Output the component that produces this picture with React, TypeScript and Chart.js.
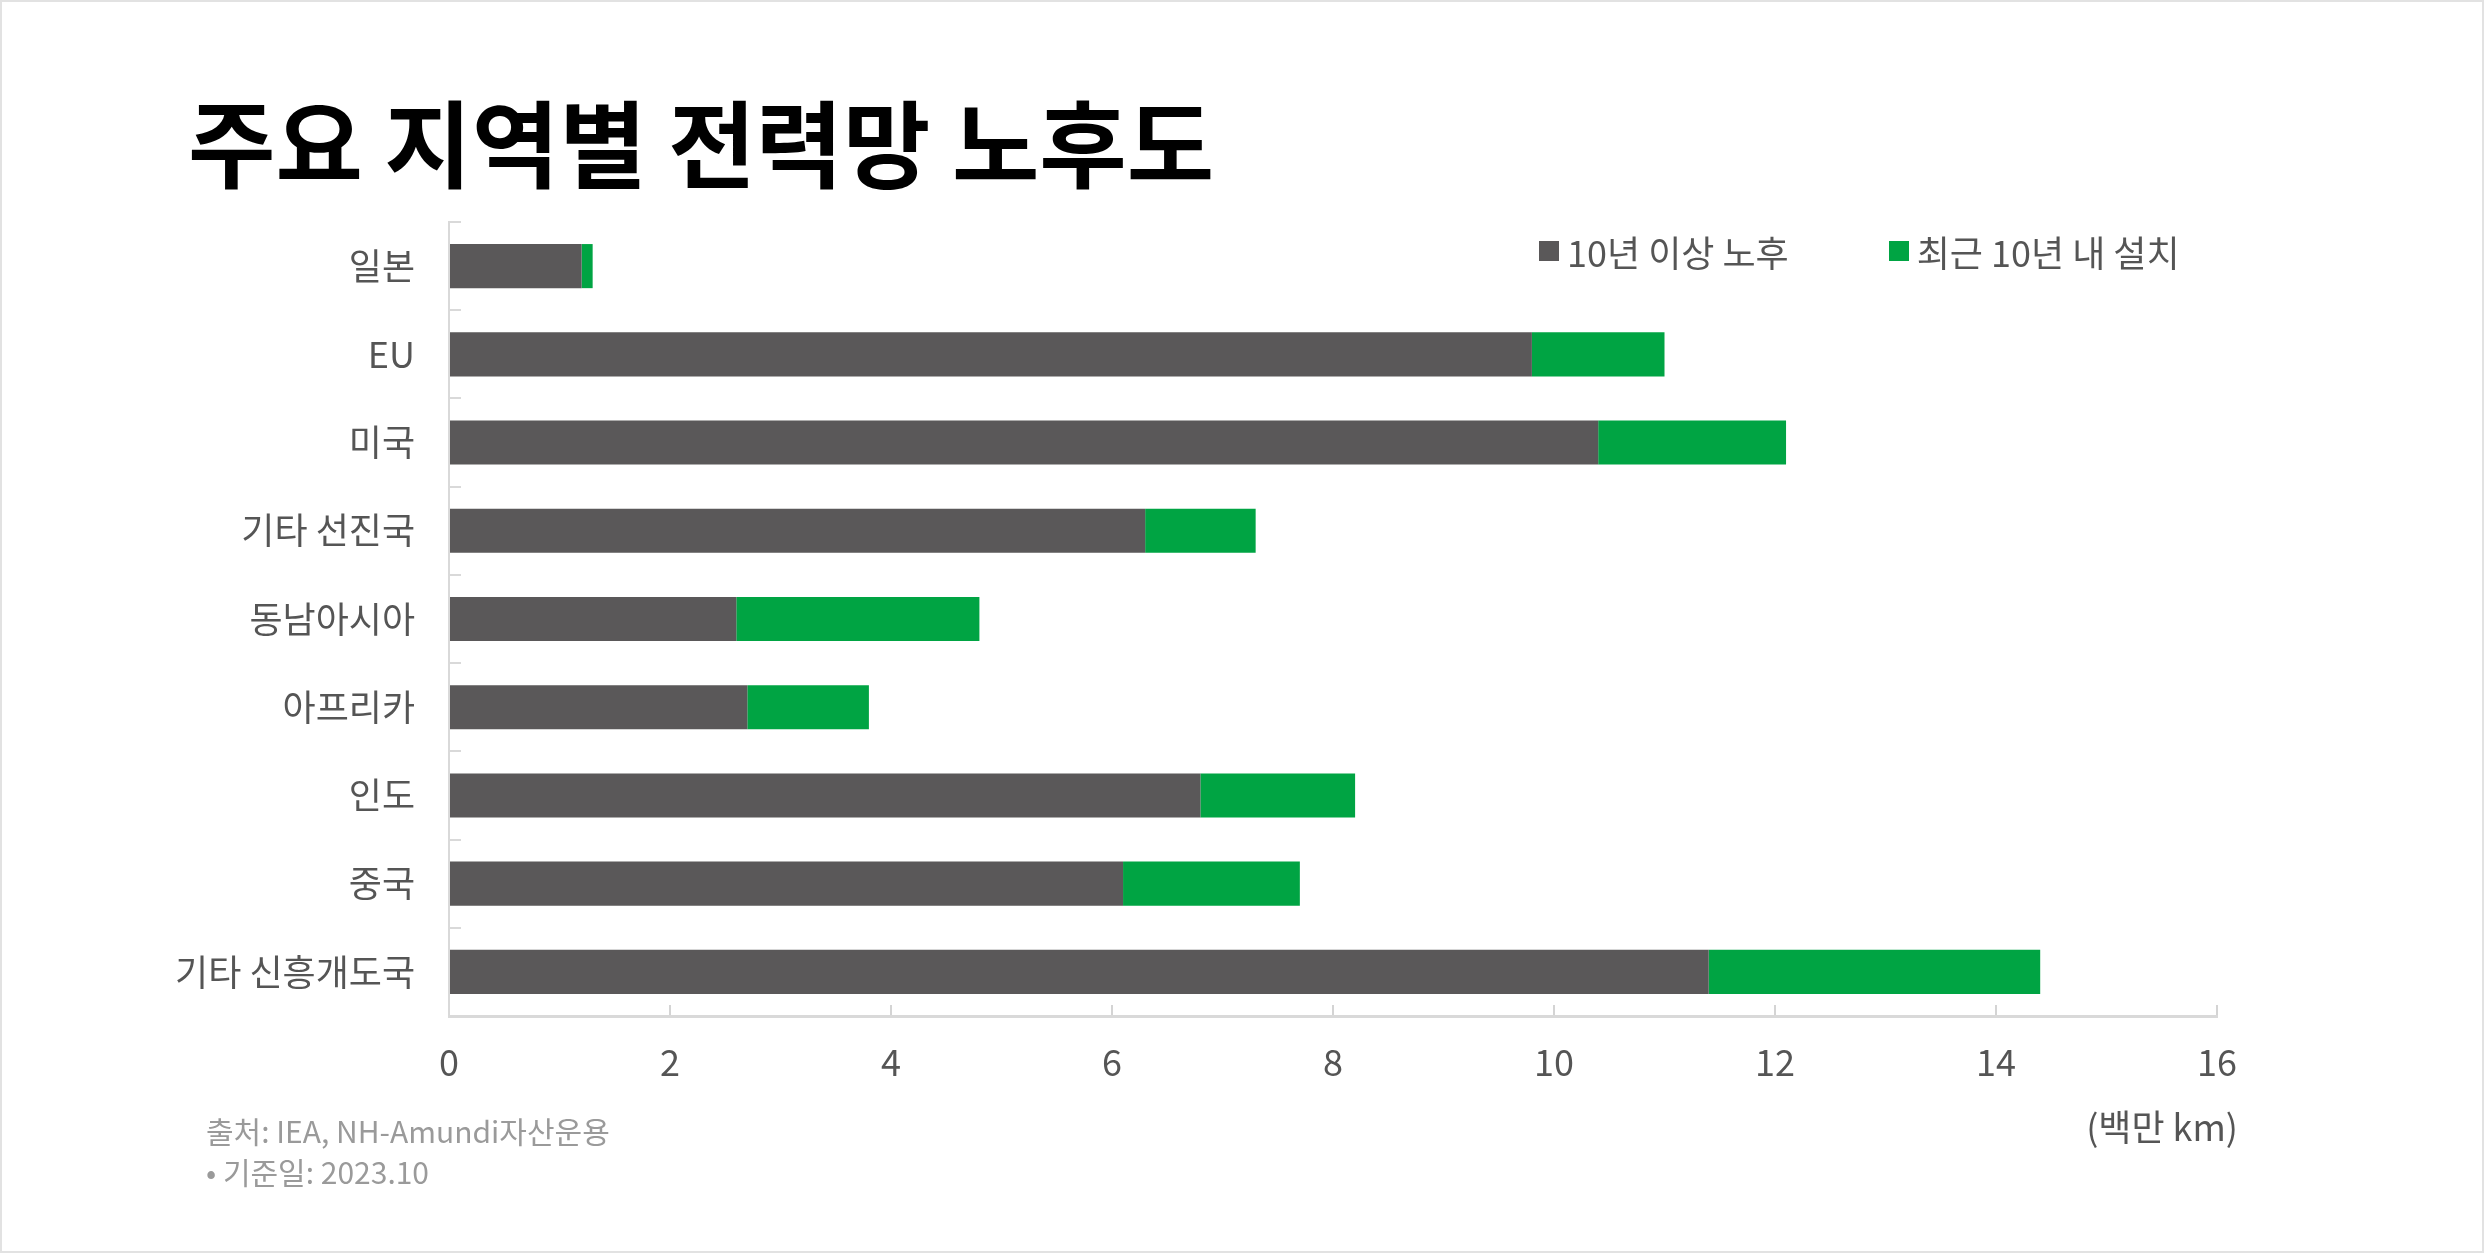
import React, { useEffect, useRef } from 'react';
import { Chart, registerables } from 'chart.js';

Chart.register(...registerables);

const FONT = '"Noto Sans CJK KR", "Noto Sans", sans-serif';

const categories = ['일본', 'EU', '미국', '기타 선진국', '동남아시아', '아프리카', '인도', '중국', '기타 신흥개도국'];
const agedOver10 = [1.2, 9.8, 10.4, 6.3, 2.6, 2.7, 6.8, 6.1, 11.4];
const builtLast10 = [0.1, 1.2, 1.7, 1.0, 2.2, 1.1, 1.4, 1.6, 3.0];
const seriesNames = ['10년 이상 노후', '최근 10년 내 설치'];
const seriesColors = ['#5a5859', '#00a443'];
const xMin = 0;
const xMax = 16;
const xStep = 2;

const App: React.FC = () => {
  const canvasRef = useRef<HTMLCanvasElement | null>(null);
  const chartRef = useRef<Chart | null>(null);

  useEffect(() => {
    document.body.style.margin = '0';
    if (!canvasRef.current) return;
    const ctx = canvasRef.current.getContext('2d');
    if (!ctx) return;

    if (chartRef.current) {
      chartRef.current.destroy();
    }

    chartRef.current = new Chart(ctx, {
      type: 'bar',
      data: {
        labels: categories,
        datasets: [
          {
            label: seriesNames[0],
            data: agedOver10,
            backgroundColor: seriesColors[0],
            borderWidth: 0,
            barPercentage: 0.5,
            categoryPercentage: 1,
          },
          {
            label: seriesNames[1],
            data: builtLast10,
            backgroundColor: seriesColors[1],
            borderWidth: 0,
            barPercentage: 0.5,
            categoryPercentage: 1,
          },
        ],
      },
      options: {
        indexAxis: 'y',
        animation: false,
        responsive: false,
        maintainAspectRatio: false,
        devicePixelRatio: 1,
        layout: {
          padding: { left: 149, right: 267, top: 222, bottom: 157 },
        },
        scales: {
          x: {
            stacked: true,
            min: xMin,
            max: xMax,
            ticks: {
              stepSize: xStep,
              color: '#555555',
              font: { family: FONT, size: 36 },
              padding: 36,
            },
            grid: {
              drawOnChartArea: false,
              tickLength: -11,
              color: '#d4d4d4',
              lineWidth: 2,
            },
            border: { color: '#d9d9d9', width: 3 },
            afterFit: (scale: any) => {
              scale.height = 80;
            },
          },
          y: {
            stacked: true,
            ticks: {
              color: '#555555',
              font: { family: FONT, size: 36 },
              padding: 46,
            },
            grid: {
              drawOnChartArea: false,
              offset: true,
              tickLength: -12,
              color: '#d9d9d9',
              lineWidth: 2,
            },
            border: { color: '#d9d9d9', width: 2 },
            afterFit: (scale: any) => {
              scale.width = 300;
            },
          },
        },
        plugins: {
          legend: { display: false },
          tooltip: { enabled: false },
        },
      },
    });

    return () => {
      if (chartRef.current) {
        chartRef.current.destroy();
        chartRef.current = null;
      }
    };
  }, []);

  return (
    <div
      style={{
        position: 'absolute',
        left: 0,
        top: 0,
        width: 2484,
        height: 1253,
        background: '#ffffff',
        border: '2px solid #e2e2e2',
        boxSizing: 'border-box',
        fontFamily: FONT,
        overflow: 'hidden',
      }}
    >
      <canvas
        ref={canvasRef}
        width={2484}
        height={1253}
        style={{ position: 'absolute', left: -2, top: -2, width: 2484, height: 1253 }}
      ></canvas>
      <div
        style={{
          position: 'absolute',
          left: 186,
          top: 90,
          fontSize: 95,
          fontWeight: 700,
          lineHeight: 1,
          color: '#000000',
          whiteSpace: 'nowrap',
        }}
      >
        주요 지역별 전력망 노후도
      </div>
      <div
        style={{
          position: 'absolute',
          left: 1537,
          top: 231,
          display: 'flex',
          alignItems: 'center',
          fontSize: 36,
          lineHeight: 1,
          color: '#555555',
          whiteSpace: 'nowrap',
        }}
      >
        {seriesNames.map((name, i) => (
          <div key={name} style={{ display: 'flex', alignItems: 'center', marginRight: i === 0 ? 100 : 0 }}>
            <span style={{ width: 20, height: 20, background: seriesColors[i], marginRight: 8, display: 'inline-block' }}></span>
            <span>{name}</span>
          </div>
        ))}
      </div>
      <div
        style={{
          position: 'absolute',
          right: 2484 - 2240,
          top: 1105,
          fontSize: 36,
          lineHeight: 1,
          color: '#555555',
          whiteSpace: 'nowrap',
        }}
      >
        (백만 km)
      </div>
      <div
        style={{
          position: 'absolute',
          left: 204,
          top: 1108,
          fontSize: 30,
          lineHeight: '41px',
          color: '#9a9a9a',
          whiteSpace: 'nowrap',
        }}
      >
        <div>출처: IEA, NH-Amundi자산운용</div>
        <div>• 기준일: 2023.10</div>
      </div>
    </div>
  );
};

export default App;
